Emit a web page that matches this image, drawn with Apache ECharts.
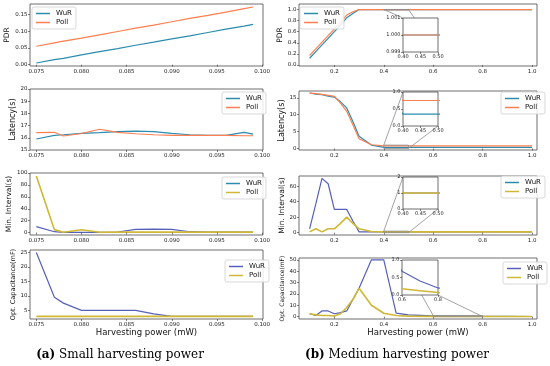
<!DOCTYPE html>
<html><head><meta charset="utf-8">
<script src="https://cdn.jsdelivr.net/npm/echarts@6/dist/echarts.min.js"></script>
<style>html,body{margin:0;padding:0;background:#fff}#c{width:550px;height:366px}</style>
</head><body><div id="c"></div>
<script>
// ---------- data ----------
const xSmall = [0.075,0.077,0.078,0.080,0.082,0.084,0.086,0.088,0.090,0.092,0.094,0.096,0.098,0.099];
const pdrSmallWuR  = [0.005,0.015,0.019,0.029,0.039,0.048,0.058,0.067,0.077,0.086,0.096,0.106,0.115,0.120];
const pdrSmallPoll = [0.055,0.065,0.070,0.079,0.089,0.099,0.109,0.118,0.128,0.138,0.147,0.157,0.167,0.172];
const latSmallWuR  = [15.9,16.2,16.25,16.37,16.43,16.5,16.55,16.5,16.37,16.25,16.2,16.2,16.45,16.3];
const latSmallPoll = [16.43,16.45,16.15,16.35,16.7,16.45,16.33,16.25,16.2,16.2,16.2,16.2,16.17,16.17];
const minSmallWuR  = [10,1.5,0.5,0.5,0.5,1,5.5,6,5.5,1.5,1,1,1,1];
const minSmallPoll = [95,5,0.7,4.8,0.7,0.8,0.8,0.8,0.8,0.8,0.8,0.8,0.8,0.8];
const capSmallWuR  = [25,9.5,7.5,5,5,5,5,3.8,2.9,2.9,2.9,2.9,2.9,2.9];
const capSmallPoll = [2.9,2.9,2.9,2.9,2.9,2.9,2.9,2.9,2.9,2.9,2.9,2.9,2.9,2.9];

const xMed = [0.1,0.125,0.15,0.175,0.2,0.225,0.25,0.275,0.3,0.35,0.4,0.45,0.5,0.6,0.7,0.8,0.9,1.0];
const pdrMedWuR  = [0.12,0.24,0.36,0.48,0.60,0.72,0.85,0.93,1,1,1,1,1,1,1,1,1,1];
const pdrMedPoll = [0.17,0.29,0.41,0.53,0.65,0.77,0.90,0.96,1,1,1,1,1,1,1,1,1,1];
const latMedWuR  = [16.4,16.1,15.9,15.5,15.2,13.8,12.0,8.0,3.6,1.0,0.35,0.35,0.35,0.35,0.35,0.35,0.35,0.35];
const latMedPoll = [16.4,16.2,16.0,15.7,15.4,13.4,11.0,7.0,2.9,1.1,0.75,0.75,0.75,0.75,0.75,0.75,0.75,0.75];
const minMedWuR  = [5,37,70,63,30,30,30,15,1,1,1,1,1,1,1,1,1,1];
const minMedPoll = [1,5,1,5,5,12,20,12,5,1.5,1,1,1,1,1,1,1,1];
const capMedWuR  = [2.5,1,5,5,2.5,3.5,5,15,25,50,50,3,1.5,0.68,0.4,0.2,0.15,0.1];
const capMedPoll = [2.5,1.5,1,1,0.5,2.5,8,15,25,10,3,1,0.4,0.18,0.12,0.07,0.05,0.04];

// tick labels
const tickXSmall = [0.075,0.080,0.085,0.090,0.095,0.100];
const tickXMed = [0.2,0.4,0.6,0.8,1.0];
const tickPdrSmall = [0,0.05,0.10,0.15];
const tickPdrMed = [0,0.2,0.4,0.6,0.8,1.0];
const tickLatSmall = [15,16,17,18,19,20];
const tickLatMed = [0,5,10,15];
const tickMinSmall = [0,20,40,60,80,100];
const tickMinMed = [0,20,40,60];
const tickCapSmall = [5,10,15,20,25];
const tickCapMed = [0,10,20,30,40,50];
const tickInsetX = [0.40,0.45,0.50];
const tickInsetX4 = [0.6,0.8];
const tickInset1Y = [0.999,1.000,1.001];
const tickInset2Y = [0,0.5,1.0];
const tickInset3Y = [0,1,2];
const tickInset4Y = [0,0.5,1.0];

const yNames = ['PDR','Latency(s)','Min. Interval(s)','Opt. Capacitance(mF)'];
const seriesNames = ['WuR','Poll'];
const xName = 'Harvesting power (mW)';
const captions = ['(a)','Small harvesting power','(b)','Medium harvesting power'];

// ---------- chart ----------
const FONT = 'DejaVu Sans';
const COL = {wurA:'#2b8cae', pollA:'#ff7f50', wurB:'#5560b9', pollB:'#cfb834'};
const chart = echarts.init(document.getElementById('c'), null, {renderer:'canvas'});

function G(l,t,w,h,inset){
  return {left:l, top:t, width:w, height:h, show:true, borderColor:'#4a4a4a', borderWidth:0.8,
    backgroundColor: inset ? '#fff' : 'transparent', z: inset ? 10 : 0};
}
const grids = [
  G(30,4,233,62), G(299,4,238,62),
  G(30,89,233,61), G(299,91,238,59),
  G(30,173,233,62), G(299,176,238,59),
  G(30,250,233,69), G(299,258,238,61),
  G(403,18,35,34,true), G(403,92,35,34,true), G(403,177,35,32,true), G(402,260,36,35,true)
];

function A(gi, min, max, ticks, dec, extra){
  const inset = gi >= 8;
  return Object.assign({
    type:'value', gridIndex:gi, min:min, max:max, z: inset ? 12 : 3,
    axisLine:{show:false}, splitLine:{show:false},
    axisTick:{show:true, length:2, customValues:ticks, lineStyle:{color:'#333', width:0.6}},
    axisLabel:{customValues:ticks, formatter:(v)=>v.toFixed(dec), fontSize: inset ? 5 : 5.5,
      color:'#222', margin:2.5, fontFamily:FONT, showMinLabel:true, showMaxLabel:true}
  }, extra || {});
}
function yN(name, gap, size){
  return {name:name, nameLocation:'middle', nameGap:gap,
    nameTextStyle:{fontSize:size, fontFamily:FONT, color:'#111'}};
}
const xNm = {name:xName, nameLocation:'middle', nameGap:9, nameTextStyle:{fontSize:8.5, fontFamily:FONT, color:'#111'}};

const xAxes = [
  A(0,0.0743,0.1001,tickXSmall,3), A(1,0.057,1.02,tickXMed,1),
  A(2,0.0743,0.1001,tickXSmall,3), A(3,0.057,1.02,tickXMed,1),
  A(4,0.0743,0.1001,tickXSmall,3), A(5,0.057,1.02,tickXMed,1),
  A(6,0.0743,0.1001,tickXSmall,3,xNm), A(7,0.057,1.02,tickXMed,1,xNm),
  A(8,0.40,0.50,tickInsetX,2), A(9,0.40,0.50,tickInsetX,2), A(10,0.40,0.50,tickInsetX,2), A(11,0.6,0.8,tickInsetX4,1)
];
const yAxes = [
  A(0,-0.004,0.181,tickPdrSmall,2,yN(yNames[0],17,7.5)), A(1,-0.02,1.1,tickPdrMed,1,yN(yNames[0],12,7.5)),
  A(2,15,20,tickLatSmall,0,yN(yNames[1],13,8)), A(3,-0.45,17.0,tickLatMed,0,yN(yNames[1],10,8)),
  A(4,-4,100,tickMinSmall,0,yN(yNames[2],14,7.5)), A(5,-3,73,tickMinMed,0,yN(yNames[2],12,7.5)),
  A(6,2.0,25.9,tickCapSmall,0,yN(yNames[3],13,6.5)), A(7,-2.1,51.6,tickCapMed,0,yN(yNames[3],12,6)),
  A(8,0.999,1.001,tickInset1Y,3), A(9,0,1,tickInset2Y,1), A(10,0,2,tickInset3Y,0), A(11,0,1,tickInset4Y,1)
];

function pairs(xs, ys){ return xs.map((x,i)=>[x, ys[i]]); }
function S(name, gi, xs, ys, color, w){
  return {type:'line', name:name, xAxisIndex:gi, yAxisIndex:gi, data:pairs(xs,ys),
    showSymbol:false, symbol:'none', animation:false, z: gi >= 8 ? 11 : 2,
    lineStyle:{color:color, width:w || 1.2}, itemStyle:{color:color}};
}
const panels = [
  [0, xSmall, pdrSmallWuR, pdrSmallPoll, 'A'], [1, xMed, pdrMedWuR, pdrMedPoll, 'A'],
  [2, xSmall, latSmallWuR, latSmallPoll, 'A'], [3, xMed, latMedWuR, latMedPoll, 'A'],
  [4, xSmall, minSmallWuR, minSmallPoll, 'B'], [5, xMed, minMedWuR, minMedPoll, 'B'],
  [6, xSmall, capSmallWuR, capSmallPoll, 'B'], [7, xMed, capMedWuR, capMedPoll, 'B'],
  [8, xMed, pdrMedWuR, pdrMedPoll, 'A'], [9, xMed, latMedWuR, latMedPoll, 'A'],
  [10, xMed, minMedWuR, minMedPoll, 'B'], [11, xMed, capMedWuR, capMedPoll, 'B']
];
const series = [];
panels.forEach(p=>{
  const cw = p[4]==='A' ? COL.wurA : COL.wurB;
  const cp = p[4]==='A' ? COL.pollA : COL.pollB;
  const pw = p[4]==='B' ? 1.6 : 1.2;
  series.push(S(seriesNames[0], p[0], p[1], p[2], cw));
  series.push(S(seriesNames[1], p[0], p[1], p[3], cp, pw));
});

function L(left, top, cw, cp){
  return {left:left, top:top, orient:'vertical', icon:'rect', itemWidth:14, itemHeight:1.5, itemGap:2,
    padding:[3,4,3,4], borderColor:'#cfcfcf', borderWidth:0.8, borderRadius:2, backgroundColor:'rgba(255,255,255,0.85)',
    textStyle:{fontSize:7, fontFamily:FONT, color:'#111', padding:[0,0,0,1]}, selectedMode:false,
    data:[{name:seriesNames[0], itemStyle:{color:cw}}, {name:seriesNames[1], itemStyle:{color:cp}}]};
}
const legends = [
  L(32,7,COL.wurA,COL.pollA), L(300,7,COL.wurA,COL.pollA),
  L(222,92,COL.wurA,COL.pollA), L(501,92,COL.wurA,COL.pollA),
  L(222,177,COL.wurA,COL.pollB), L(501,176,COL.wurA,COL.pollB),
  L(225,260,COL.wurB,COL.pollB), L(503,262,COL.wurB,COL.pollB)
];

chart.setOption({animation:false, backgroundColor:'#fff', grid:grids, xAxis:xAxes, yAxis:yAxes, legend:legends, series:series});

// inset markers and connectors
const graphics = [];
function mark(parent, inset, x0, x1, y0, y1){
  const pUL = chart.convertToPixel({gridIndex:parent},[x0,y1]);
  const pLR = chart.convertToPixel({gridIndex:parent},[x1,y0]);
  const iUL = chart.convertToPixel({gridIndex:inset},[x0,y1]);
  const iLR = chart.convertToPixel({gridIndex:inset},[x1,y0]);
  const st = {stroke:'#8c8c8c', lineWidth:0.8, fill:null};
  graphics.push({type:'rect', z:9, shape:{x:pUL[0], y:pUL[1], width:pLR[0]-pUL[0], height:Math.max(0.5,pLR[1]-pUL[1])}, style:Object.assign({},st,{fill:'transparent'})});
  graphics.push({type:'line', z:9, shape:{x1:pUL[0],y1:pUL[1],x2:iUL[0],y2:iUL[1]}, style:st});
  graphics.push({type:'line', z:9, shape:{x1:pLR[0],y1:pLR[1],x2:iLR[0],y2:iLR[1]}, style:st});
}
mark(1,8,0.40,0.50,0.999,1.001);
mark(3,9,0.40,0.50,0,1);
mark(5,10,0.40,0.50,0,2);
mark(7,11,0.6,0.8,0,1);

const capFont = 'DejaVu Serif';
graphics.push({type:'text', z:20, style:{x:120, y:355, text:'{b|'+captions[0]+'} '+captions[1], align:'center', verticalAlign:'middle',
  fontSize:12, fontFamily:capFont, fill:'#000', rich:{b:{fontWeight:'bold', fontSize:12, fontFamily:capFont}}}});
graphics.push({type:'text', z:20, style:{x:397, y:355, text:'{b|'+captions[2]+'} '+captions[3], align:'center', verticalAlign:'middle',
  fontSize:12, fontFamily:capFont, fill:'#000', rich:{b:{fontWeight:'bold', fontSize:12, fontFamily:capFont}}}});
chart.setOption({graphic:graphics});
</script>
</body></html>
